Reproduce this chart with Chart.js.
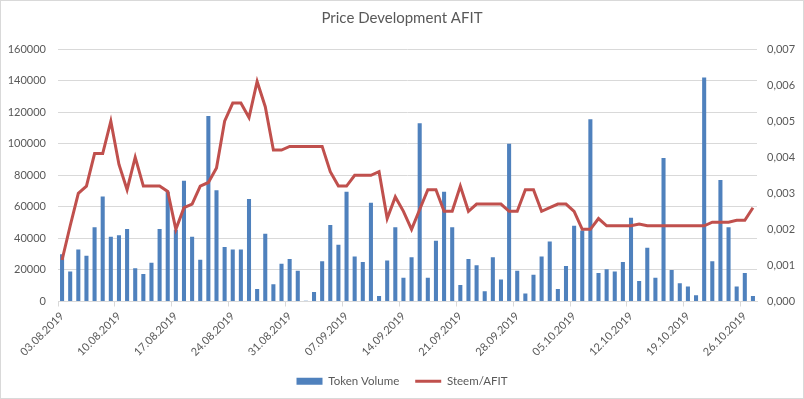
<!DOCTYPE html>
<html>
<head>
<meta charset="utf-8">
<script src="https://cdn.jsdelivr.net/npm/chart.js@4/dist/chart.umd.min.js"></script>
<style>
  html, body { margin: 0; padding: 0; background: #fff; }
  #wrap { width: 804px; height: 399px; position: relative; }
</style>
</head>
<body>
<div id="wrap"><canvas id="chart" width="804" height="399"></canvas></div>
<script>
// Datos del gráfico
const fechas = [
  '03.08.2019','04.08.2019','05.08.2019','06.08.2019','07.08.2019','08.08.2019','09.08.2019',
  '10.08.2019','11.08.2019','12.08.2019','13.08.2019','14.08.2019','15.08.2019','16.08.2019',
  '17.08.2019','18.08.2019','19.08.2019','20.08.2019','21.08.2019','22.08.2019','23.08.2019',
  '24.08.2019','25.08.2019','26.08.2019','27.08.2019','28.08.2019','29.08.2019','30.08.2019',
  '31.08.2019','01.09.2019','02.09.2019','03.09.2019','04.09.2019','05.09.2019','06.09.2019',
  '07.09.2019','08.09.2019','09.09.2019','10.09.2019','11.09.2019','12.09.2019','13.09.2019',
  '14.09.2019','15.09.2019','16.09.2019','17.09.2019','18.09.2019','19.09.2019','20.09.2019',
  '21.09.2019','22.09.2019','23.09.2019','24.09.2019','25.09.2019','26.09.2019','27.09.2019',
  '28.09.2019','29.09.2019','30.09.2019','01.10.2019','02.10.2019','03.10.2019','04.10.2019',
  '05.10.2019','06.10.2019','07.10.2019','08.10.2019','09.10.2019','10.10.2019','11.10.2019',
  '12.10.2019','13.10.2019','14.10.2019','15.10.2019','16.10.2019','17.10.2019','18.10.2019',
  '19.10.2019','20.10.2019','21.10.2019','22.10.2019','23.10.2019','24.10.2019','25.10.2019',
  '26.10.2019','27.10.2019'
];

const tokenVolume = [
  30000, 19000, 33000, 29000, 47000, 66500, 41000, 42000, 46000, 21000, 17500, 24500, 46000, 69500,
  45500, 76500, 41000, 26500, 117500, 70500, 34500, 33000, 33000, 65000, 8000, 43000, 11000, 24000,
  27000, 19500, 500, 6000, 25500, 48500, 36000, 69500, 28500, 25000, 62500, 3500, 26000, 47000,
  15000, 28000, 113000, 15000, 38500, 69500, 47000, 10500, 27000, 23000, 6500, 28000, 14000, 100000,
  19500, 5000, 17000, 28500, 38000, 8000, 22500, 48000, 45000, 115500, 18000, 20500, 19000, 25000,
  53000, 13000, 34000, 15000, 91000, 20000, 11500, 9500, 4000, 142000, 25500, 77000, 47000, 9500,
  18000, 3500
];

const steemAfit = [
  0.00115, 0.0021, 0.0030, 0.0032, 0.0041, 0.0041, 0.0050, 0.0038, 0.0031, 0.0040, 0.0032, 0.0032,
  0.0032, 0.00305, 0.0020, 0.0026, 0.0027, 0.0032, 0.0033, 0.0037, 0.0050, 0.0055, 0.0055, 0.0051,
  0.0061, 0.0054, 0.0042, 0.0042, 0.0043, 0.0043, 0.0043, 0.0043, 0.0043, 0.0036, 0.0032, 0.0032,
  0.0035, 0.0035, 0.0035, 0.0036, 0.0023, 0.0029, 0.0025, 0.0020, 0.00255, 0.0031, 0.0031, 0.0025,
  0.0025, 0.0032, 0.0025, 0.0027, 0.0027, 0.0027, 0.0027, 0.0025, 0.0025, 0.0031, 0.0031, 0.0025,
  0.0026, 0.0027, 0.0027, 0.0025, 0.0020, 0.0020, 0.0023, 0.0021, 0.0021, 0.0021, 0.0021, 0.00215,
  0.0021, 0.0021, 0.0021, 0.0021, 0.0021, 0.0021, 0.0021, 0.0021, 0.0022, 0.0022, 0.0022, 0.00225,
  0.00225, 0.0026
];

const ticksIzq = [0, 160000, 20000];   // min, max, paso
const ticksDer = [0, 0.007, 0.001];

const gris = '#595959';
const lineaGris = '#d9d9d9';
Chart.defaults.font.family = 'Lato, "Open Sans", sans-serif';
Chart.defaults.color = gris;

// Borde exterior del gráfico
const borde = {
  id: 'borde',
  afterDraw(chart) {
    const c = chart.ctx;
    c.save();
    c.strokeStyle = lineaGris;
    c.lineWidth = 1;
    c.strokeRect(0.5, 0.5, chart.width - 1, chart.height - 1);
    c.restore();
  }
};

new Chart(document.getElementById('chart').getContext('2d'), {
  data: {
    labels: fechas,
    datasets: [
      {
        type: 'bar',
        label: 'Token Volume',
        data: tokenVolume,
        backgroundColor: '#4F81BD',
        yAxisID: 'y',
        barPercentage: 0.5,
        categoryPercentage: 1,
        order: 2
      },
      {
        type: 'line',
        label: 'Steem/AFIT',
        data: steemAfit,
        borderColor: '#C0504D',
        backgroundColor: '#C0504D',
        borderWidth: 3,
        pointRadius: 0,
        tension: 0,
        yAxisID: 'y1',
        order: 1
      }
    ]
  },
  options: {
    responsive: false,
    animation: false,
    layout: { padding: { top: 1, left: 0, right: 0, bottom: 2 } },
    plugins: {
      title: {
        display: true,
        text: 'Price Development AFIT',
        color: gris,
        font: { size: 15, weight: 'normal' },
        padding: { top: 8, bottom: 22 }
      },
      legend: {
        position: 'bottom',
        labels: {
          usePointStyle: true,
          pointStyleWidth: 26,
          boxHeight: 7,
          padding: 16,
          font: { size: 11.5 },
          color: gris,
          sort: (a, b) => a.datasetIndex - b.datasetIndex,
          generateLabels(chart) {
            const items = Chart.defaults.plugins.legend.labels.generateLabels(chart);
            items.forEach(it => {
              it.pointStyle = it.datasetIndex === 0 ? 'rect' : 'line';
              if (it.datasetIndex === 0) { it.lineWidth = 0; }
              else { it.strokeStyle = '#C0504D'; it.lineWidth = 3; }
            });
            return items;
          }
        }
      },
      tooltip: { enabled: false }
    },
    scales: {
      x: {
        offset: true,
        grid: {
          offset: true,
          drawOnChartArea: false,
          tickLength: 5,
          color: ctx => (ctx.index % 7 === 0 ? lineaGris : 'rgba(0,0,0,0)')
        },
        border: { display: true, color: lineaGris },
        ticks: {
          autoSkip: false,
          maxRotation: 45,
          minRotation: 45,
          padding: 3,
          font: { size: 11 },
          callback: (v, i) => (i % 7 === 0 ? fechas[i] : '')
        },
        afterFit: s => { s.height = 58; }
      },
      y: {
        position: 'left',
        min: ticksIzq[0],
        max: ticksIzq[1],
        grid: { color: lineaGris, drawTicks: false },
        border: { display: false },
        ticks: { stepSize: ticksIzq[2], padding: 12, font: { size: 11 }, callback: v => String(v) },
        afterFit: s => { s.width = 58; }
      },
      y1: {
        position: 'right',
        min: ticksDer[0],
        max: ticksDer[1],
        grid: { drawOnChartArea: false, drawTicks: false },
        border: { display: false },
        ticks: {
          stepSize: ticksDer[2],
          padding: 10,
          font: { size: 11 },
          callback: v => v.toFixed(3).replace('.', ',')
        },
        afterFit: s => { s.width = 47; }
      }
    }
  },
  plugins: [borde]
});
</script>
</body>
</html>
